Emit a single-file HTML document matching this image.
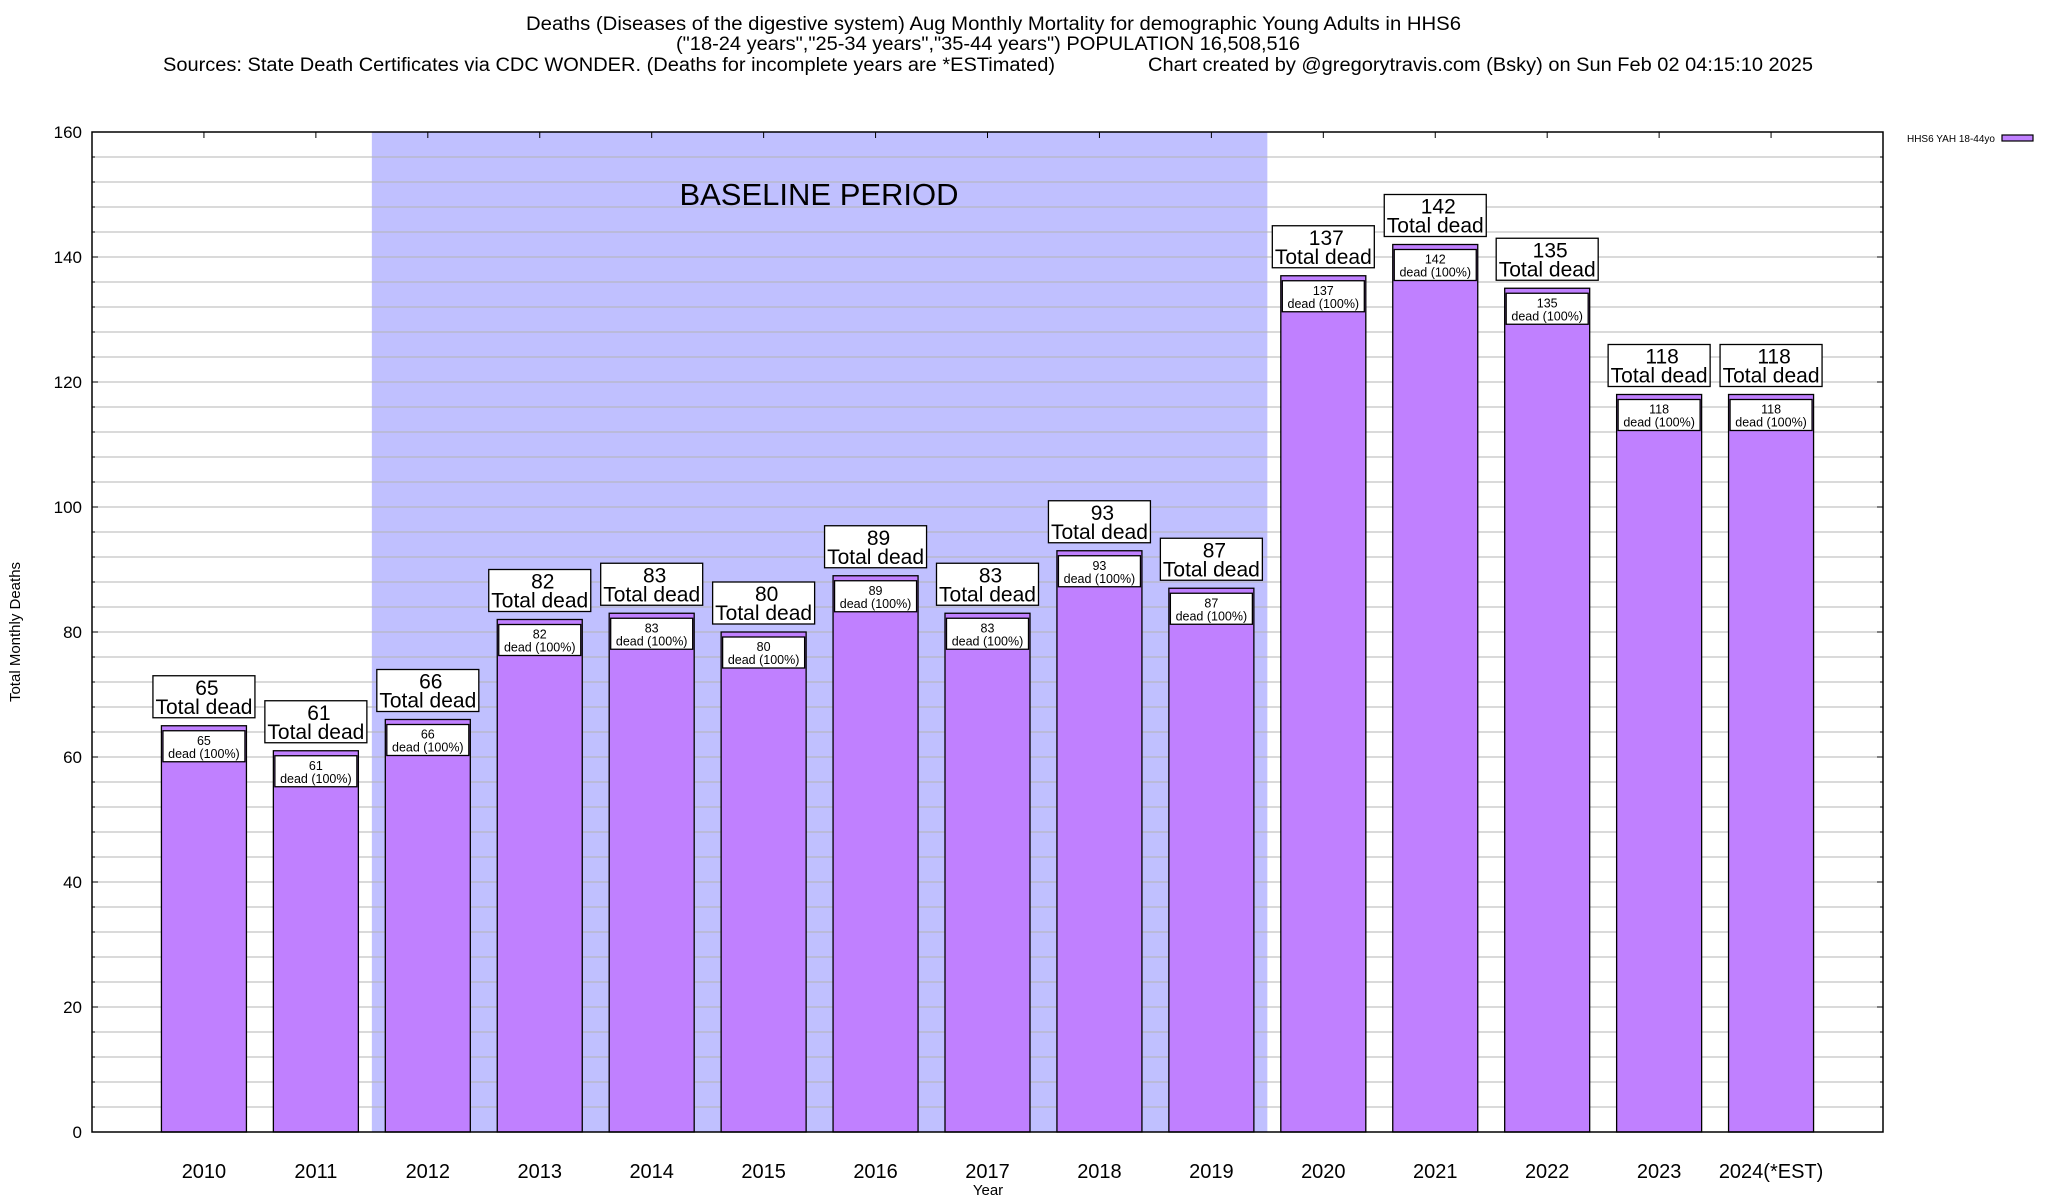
<!DOCTYPE html>
<html><head><meta charset="utf-8"><style>
html,body{margin:0;padding:0;background:#fff;}
svg{display:block;font-family:"Liberation Sans",Arial,sans-serif;}
</style></head><body>
<svg id="chart" width="2048" height="1200" viewBox="0 0 2048 1200">
<g font-size="19" fill="#000">
<text x="526" y="30" textLength="935" lengthAdjust="spacingAndGlyphs">Deaths (Diseases of the digestive system) Aug Monthly Mortality for demographic Young Adults in HHS6</text>
<text x="676" y="50" textLength="624" lengthAdjust="spacingAndGlyphs">("18-24 years","25-34 years","35-44 years") POPULATION 16,508,516</text>
<text x="163" y="71" textLength="892" lengthAdjust="spacingAndGlyphs">Sources: State Death Certificates via CDC WONDER. (Deaths for incomplete years are *ESTimated)</text>
<text x="1148" y="71" textLength="665" lengthAdjust="spacingAndGlyphs">Chart created by @gregorytravis.com (Bsky) on Sun Feb 02 04:15:10 2025</text>
</g>
<g id="plot"></g>
<text x="819" y="205" text-anchor="middle" font-size="31">BASELINE PERIOD</text>
<text transform="translate(20,632) rotate(-90)" text-anchor="middle" font-size="15">Total Monthly Deaths</text>
<text x="988" y="1195" text-anchor="middle" font-size="15">Year</text>
<g>
<text x="1995" y="142" text-anchor="end" font-size="10">HHS6 YAH 18-44yo</text>
<rect x="2002" y="135" width="31" height="6" fill="#c080ff" stroke="#000" stroke-width="1.2"/>
</g>
</svg>
<script>
const categories = ["2010","2011","2012","2013","2014","2015","2016","2017","2018","2019","2020","2021","2022","2023","2024(*EST)"];
const deaths = [65,61,66,82,83,80,89,83,93,87,137,142,135,118,118];
const yTicks = [0,20,40,60,80,100,120,140,160];
const baselineRange = ["2012","2019"];

const NS = "http://www.w3.org/2000/svg";
const L = 92, R = 1883, T = 132, B = 1132, YMAX = 160;
const step = (R - L) / (categories.length + 1);
const xc = i => L + (i + 1) * step;
const y = v => B - (v / YMAX) * (B - T);
const g = document.getElementById('plot');
function mk(tag, attrs, parent) {
  const e = document.createElementNS(NS, tag);
  for (const k in attrs) e.setAttribute(k, attrs[k]);
  (parent || g).appendChild(e);
  return e;
}
const bi0 = categories.indexOf(baselineRange[0]), bi1 = categories.indexOf(baselineRange[1]);
const sh = mk('rect', {x: xc(bi0) - step/2, y: T, width: (bi1 - bi0 + 1) * step, height: B - T, fill: '#c0c0ff'});


for (let v = 4; v < YMAX; v += 4) {
  const ln = mk('line', {x1: L, x2: R, y1: y(v), y2: y(v), stroke: '#b4b4b4', 'stroke-width': 1});
  
  
  const major = v % 20 === 0;
  mk('line', {x1: L, x2: L + (major ? 6 : 3), y1: y(v), y2: y(v), stroke: '#000'});
  mk('line', {x1: R, x2: R - (major ? 6 : 3), y1: y(v), y2: y(v), stroke: '#000'});
}
yTicks.forEach(v => {
  const t = mk('text', {x: L - 10, y: y(v) + 6, 'text-anchor': 'end', 'font-size': 17});
  t.textContent = v;
  
  
});
categories.forEach((c, i) => {
  const v = deaths[i], cx = xc(i), bw = 85;
  const bar = mk('rect', {x: cx - bw/2, y: y(v), width: bw, height: B - y(v), fill: '#c080ff', stroke: '#000', 'stroke-width': 1.3});
  
  
  const ib = mk('rect', {x: cx - 41, y: y(v) + 5, width: 82, height: 31, fill: '#fff', stroke: '#000', 'stroke-width': 1.3});
  
  
  const t1 = mk('text', {x: cx, y: y(v) + 19, 'text-anchor': 'middle', 'font-size': 12.5});
  t1.textContent = v;
  
  
  const t2 = mk('text', {x: cx, y: y(v) + 32, 'text-anchor': 'middle', 'font-size': 12.5});
  t2.textContent = 'dead (100%)';
  
  
  const tb = mk('rect', {x: cx - 51, y: y(v) - 50, width: 102, height: 42, fill: '#fff', stroke: '#000', 'stroke-width': 1.3});
  
  
  const t3 = mk('text', {x: cx + 3, y: y(v) - 31, 'text-anchor': 'middle', 'font-size': 21});
  t3.textContent = v;
  
  
  const t4 = mk('text', {x: cx, y: y(v) - 12, 'text-anchor': 'middle', 'font-size': 21});
  t4.textContent = 'Total dead';
  
  
  mk('line', {x1: cx, x2: cx, y1: T, y2: T + 6, stroke: '#000'});
  const xl = mk('text', {x: cx, y: 1178, 'text-anchor': 'middle', 'font-size': 20});
  xl.textContent = c;
  
  
});
const fr = mk('rect', {x: L, y: T, width: R - L, height: B - T, fill: 'none', stroke: '#000', 'stroke-width': 1.5});


</script>
</body></html>
